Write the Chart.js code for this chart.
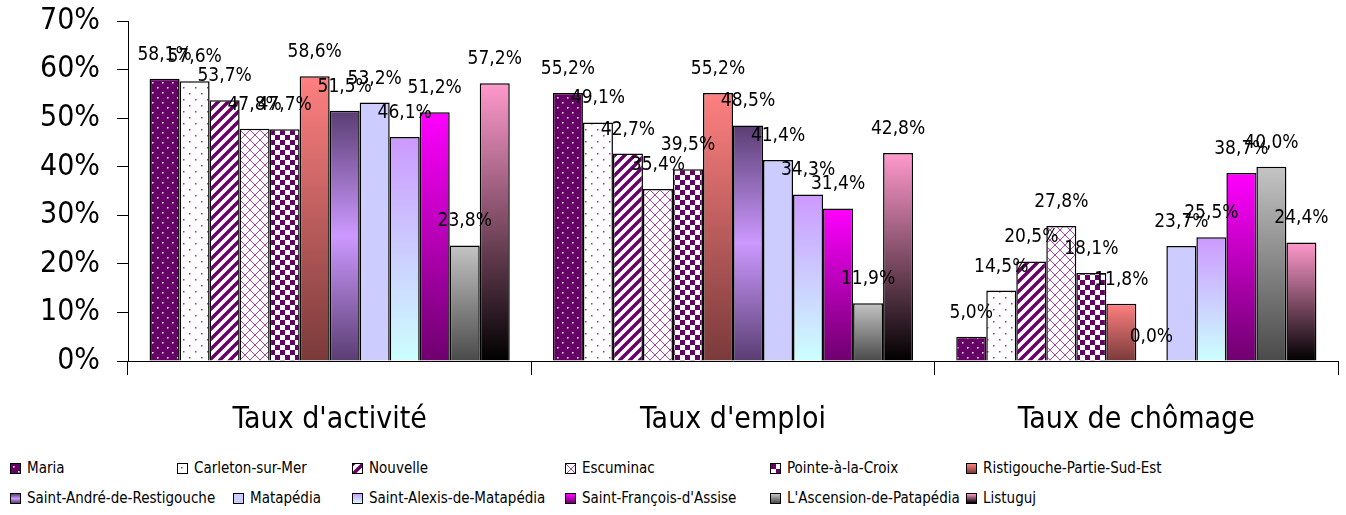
<!DOCTYPE html>
<html lang="fr">
<head>
<meta charset="UTF-8">
<title>Taux d'activité, d'emploi et de chômage</title>
<script src="https://cdn.jsdelivr.net/npm/chart.js"></script>
<style>
  body { margin: 0; background: #fff; font-family: "DejaVu Sans Condensed", "DejaVu Sans", sans-serif; }
  #wrap { position: relative; width: 1346px; height: 450px; }
  #legend { position: absolute; left: 0; top: 453px; width: 1346px; font-family: "DejaVu Sans Condensed", sans-serif; font-size: 15px; }
  .row { position: relative; height: 30px; }
  .item { position: absolute; top: 0; height: 30px; display: flex; align-items: center; white-space: nowrap; }
  .item canvas { width: 9px; height: 9px; border: 1px solid #000; margin-right: 6px; }
</style>
</head>
<body>
<div id="wrap"><canvas id="chart"></canvas></div>
<div id="legend"></div>
<script>
const categories = ["Taux d'activité", "Taux d'emploi", "Taux de chômage"];
const municipalities = ["Maria", "Carleton-sur-Mer", "Nouvelle", "Escuminac", "Pointe-à-la-Croix",
  "Ristigouche-Partie-Sud-Est", "Saint-André-de-Restigouche", "Matapédia", "Saint-Alexis-de-Matapédia",
  "Saint-François-d'Assise", "L'Ascension-de-Patapédia", "Listuguj"];
const tauxActivite = [58.1, 57.6, 53.7, 47.8, 47.7, 58.6, 51.5, 53.2, 46.1, 51.2, 23.8, 57.2];
const tauxEmploi   = [55.2, 49.1, 42.7, 35.4, 39.5, 55.2, 48.5, 41.4, 34.3, 31.4, 11.9, 42.8];
const tauxChomage  = [5.0, 14.5, 20.5, 27.8, 18.1, 11.8, 0.0, 23.7, 25.5, 38.7, 40.0, 24.4];
const yTicks = [0, 10, 20, 30, 40, 50, 60, 70];

// fills: first five are patterns, the rest vertical gradients per bar
const stops = [
  null, null, null, null, null,
  ['#ff8080', '#7a3a3a'],
  ['#5a3d72', '#cc99ff', '#5a3d72'],
  ['#ccccff', '#ccccff'],
  ['#cc99ff', '#ccffff'],
  ['#ff00ff', '#6e006e'],
  ['#c4c4c4', '#4a4a4a'],
  ['#ff99cc', '#000000']
];

function tile(w, h, draw) {
  const c = document.createElement('canvas');
  c.width = w; c.height = h;
  draw(c.getContext('2d'));
  return c;
}
const tiles = [
  tile(10, 10, g => { g.fillStyle = '#660066'; g.fillRect(0, 0, 10, 10); g.fillStyle = '#fff';
    g.fillRect(2, 2, 1.5, 1.5); g.fillRect(7, 7, 1.5, 1.5); }),
  tile(12, 12, g => { g.fillStyle = '#fff'; g.fillRect(0, 0, 12, 12); g.fillStyle = '#993399';
    g.fillRect(3, 3, 1.5, 1.5); g.fillRect(9, 9, 1.5, 1.5); }),
  tile(10, 10, g => { g.fillStyle = '#fff'; g.fillRect(0, 0, 10, 10); g.strokeStyle = '#660066'; g.lineWidth = 3.5;
    g.beginPath(); g.moveTo(-5, 5); g.lineTo(5, -5); g.moveTo(-5, 15); g.lineTo(15, -5); g.moveTo(5, 15); g.lineTo(15, 5); g.stroke(); }),
  tile(10, 10, g => { g.fillStyle = '#fff'; g.fillRect(0, 0, 10, 10); g.strokeStyle = '#aa44aa'; g.lineWidth = 1;
    g.beginPath(); g.moveTo(0, 0); g.lineTo(10, 10); g.moveTo(10, 0); g.lineTo(0, 10); g.stroke(); }),
  tile(10, 10, g => { g.fillStyle = '#fff'; g.fillRect(0, 0, 10, 10); g.fillStyle = '#660066';
    g.fillRect(0, 0, 5, 5); g.fillRect(5, 5, 5, 5); })
];

function makeFill(ctx, i, top, bottom) {
  if (i < 5) return ctx.createPattern(tiles[i], 'repeat');
  const s = stops[i];
  const gr = ctx.createLinearGradient(0, top, 0, bottom);
  s.forEach((c, k) => gr.addColorStop(k / (s.length - 1), c));
  return gr;
}

function barFill(c) {
  const i = c.datasetIndex;
  const chart = c.chart;
  if (!chart.chartArea || c.type !== 'data') return stops[i] ? stops[i][0] : '#660066';
  const y = chart.scales.y;
  const top = y.getPixelForValue(c.parsed.y);
  const bottom = y.getPixelForValue(0);
  return makeFill(chart.ctx, i, top, bottom === top ? top + 1 : bottom);
}

const datasets = municipalities.map((name, i) => ({
  label: name,
  data: [tauxActivite[i], tauxEmploi[i], tauxChomage[i]],
  backgroundColor: barFill,
  borderColor: '#000',
  borderWidth: 1.5,
  categoryPercentage: 0.893,
  barPercentage: 1
}));

const valueLabels = {
  id: 'valueLabels',
  afterDatasetsDraw(chart) {
    const ctx = chart.ctx;
    ctx.save();
    ctx.font = '19px "DejaVu Sans Condensed", sans-serif';
    ctx.fillStyle = '#000';
    ctx.textAlign = 'center';
    ctx.textBaseline = 'middle';
    chart.data.datasets.forEach((ds, di) => {
      chart.getDatasetMeta(di).data.forEach((bar, k) => {
        const txt = ds.data[k].toFixed(1).replace('.', ',') + '%';
        ctx.fillText(txt, bar.x, bar.y - 24);
      });
    });
    ctx.restore();
  }
};

const chart = new Chart(document.getElementById('chart'), {
  type: 'bar',
  data: { labels: categories, datasets: datasets },
  options: {
    responsive: true,
    maintainAspectRatio: false,
    animation: false,
    layout: { padding: { top: 21, right: 8, left: 0, bottom: 0 } },
    plugins: { legend: { display: false }, tooltip: { enabled: false } },
    scales: {
      x: {
        grid: { offset: true, drawOnChartArea: false, tickLength: 14, color: '#000' },
        border: { color: '#000' },
        ticks: { color: '#000', padding: 27, font: { size: 30, family: '"DejaVu Sans Condensed", sans-serif' } },
        afterFit: s => { s.height = 89; }
      },
      y: {
        min: 0, max: 70,
        afterBuildTicks: s => { s.ticks = yTicks.map(v => ({ value: v })); },
        grid: { drawOnChartArea: false, tickLength: 11, color: '#000' },
        border: { color: '#000' },
        ticks: { color: '#000', padding: 17, callback: v => v + '%',
          font: { size: 30, family: '"DejaVu Sans Condensed", sans-serif' } },
        afterFit: s => { s.width = 128; s.paddingTop = 0; s.paddingBottom = 0; }
      }
    }
  },
  plugins: [valueLabels]
});

// legend in 6 columns, 2 rows (second row is shifted like the original)
const colX = [[10, 177, 352, 565, 770, 966], [10, 233, 352, 565, 770, 966]];
const legend = document.getElementById('legend');
for (let r = 0; r < 2; r++) {
  const row = document.createElement('div');
  row.className = 'row';
  for (let c = 0; c < 6; c++) {
    const i = r * 6 + c;
    const item = document.createElement('div');
    item.className = 'item';
    item.style.left = colX[r][c] + 'px';
    const sw = document.createElement('canvas');
    sw.width = 9; sw.height = 9;
    const g = sw.getContext('2d');
    g.fillStyle = makeFill(g, i, 0, 9);
    g.fillRect(0, 0, 9, 9);
    item.appendChild(sw);
    item.appendChild(document.createTextNode(municipalities[i]));
    row.appendChild(item);
  }
  legend.appendChild(row);
}
</script>
</body>
</html>
